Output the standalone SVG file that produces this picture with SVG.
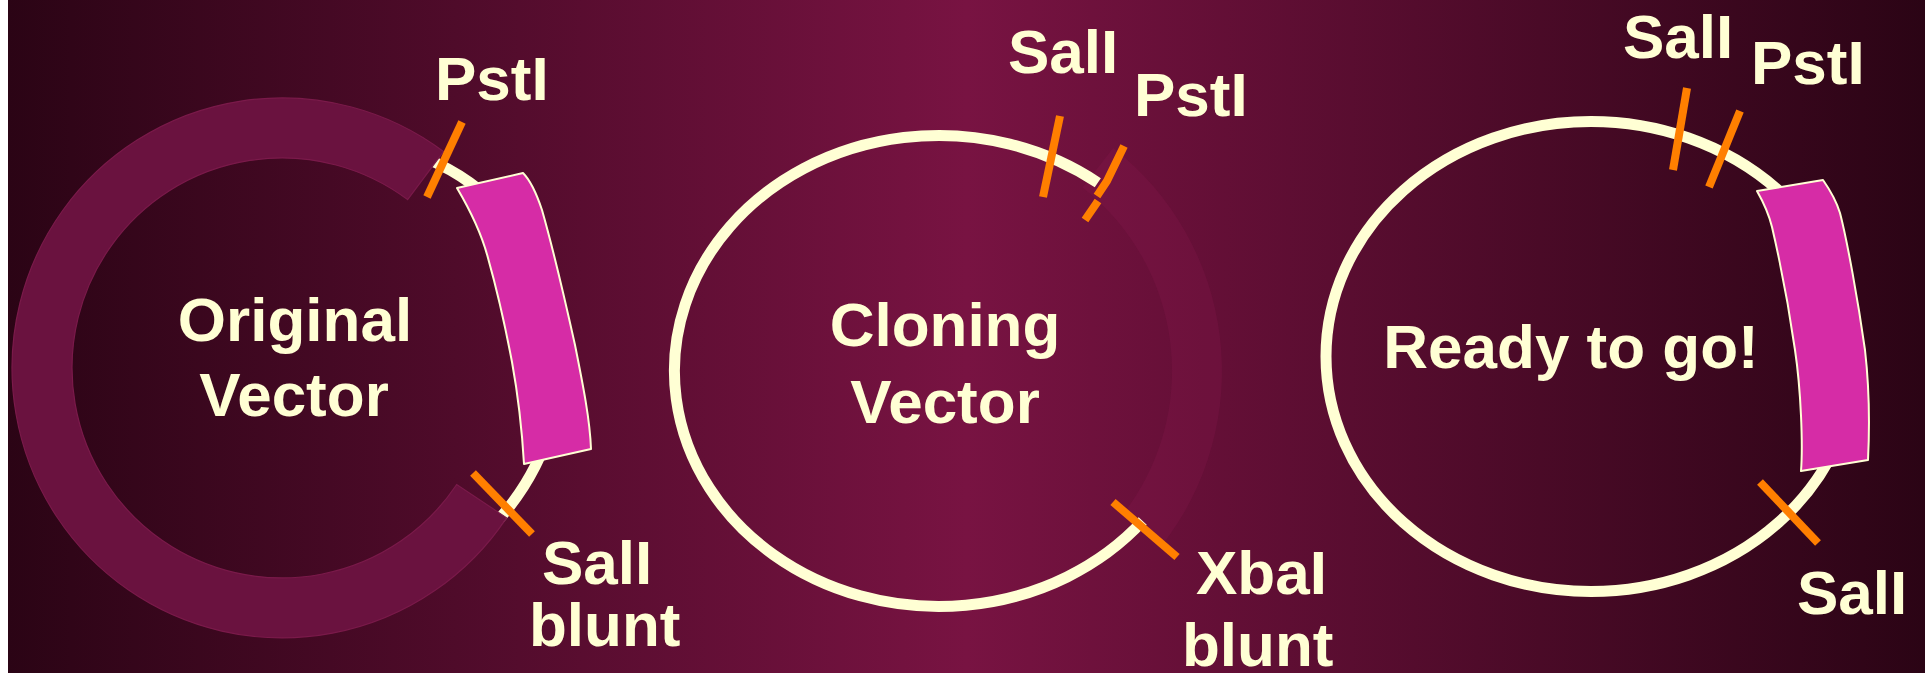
<svg xmlns="http://www.w3.org/2000/svg" width="1925" height="673" viewBox="0 0 1925 673">
  <defs>
    <linearGradient id="bg" x1="0" y1="0" x2="1" y2="0">
      <stop offset="0" stop-color="#2b0415"/>
      <stop offset="0.5" stop-color="#781342"/>
      <stop offset="1" stop-color="#2b0415"/>
    </linearGradient>
  </defs>
  <style>
    .lbl { font-family: "Liberation Sans", Arial, sans-serif; font-weight: bold; font-size: 62px; fill: #ffffd4; }
    .mid { text-anchor: middle; }
    .dna { fill: none; stroke: #ffffd4; stroke-width: 11; }
    .cut { fill: none; stroke: #ff7f00; stroke-width: 8; stroke-linecap: butt; }
    .insert { fill: #d62ca6; stroke: #ffffd4; stroke-width: 2; stroke-linejoin: round; }
    .oldring { fill: #6a123f; stroke: #7a1a4a; stroke-width: 1.2; }
  </style>

  <!-- background -->
  <rect x="0" y="0" width="1925" height="673" fill="#ffffff"/>
  <rect x="8" y="0" width="1917" height="673" fill="url(#bg)"/>

  <!-- original vector with its insert -->
  <g id="original-vector">
    <path class="dna" stroke-width="9" d="M 425,158 C 565,215 612,400 492,527"/>
    <path class="oldring" d="M 506.6,517.8 A 270 270 0 1 1 443.5,151.5 L 407.6,199.6 A 210 210 0 1 0 456.7,484.5 Z"/>
    <path class="insert" d="M 457,188 L 523,173 C 530,180 537,195 542,210 C 552,245 565,300 575,345 C 583,385 590,420 591,449 L 524,464 C 522,430 518,395 512,362 C 505,325 497,290 488,258 C 482,235 470,210 457,188 Z"/>
    <line class="cut" x1="462" y1="122" x2="427" y2="197"/>
    <line class="cut" x1="473" y1="473" x2="532" y2="534"/>
    <text class="lbl" x="435" y="100">PstI</text>
    <text class="lbl mid" x="295" y="341">Original</text>
    <text class="lbl mid" x="294" y="416">Vector</text>
    <text class="lbl" x="542" y="584">SalI</text>
    <text class="lbl" x="529" y="646">blunt</text>
  </g>

  <!-- cloning vector, opened between PstI and XbaI -->
  <g id="cloning-vector">
    <path fill="#8e1a50" fill-opacity="0.22" d="M 1113.2,148 A 283 283 0 0 1 1162,545.2 L 1122.6,514.5 A 233 233 0 0 0 1082.5,187.4 Z"/>
    <path class="dna" d="M 1097.8,182.7 A 264.5 235.5 0 1 0 1142.7,521.1"/>
    <line class="cut" x1="1060" y1="116" x2="1043" y2="197"/>
    <polyline class="cut" points="1124,146 1107,181 1097,196"/>
    <line class="cut" x1="1098" y1="201" x2="1085" y2="220"/>
    <line class="cut" x1="1113" y1="502" x2="1177" y2="557"/>
    <text class="lbl" x="1008" y="73">SalI</text>
    <text class="lbl" x="1134" y="116">PstI</text>
    <text class="lbl mid" x="945" y="346">Cloning</text>
    <text class="lbl mid" x="945" y="423">Vector</text>
    <text class="lbl" x="1196" y="594">XbaI</text>
    <text class="lbl" x="1182" y="666">blunt</text>
  </g>

  <!-- recombinant vector -->
  <g id="ready-vector">
    <ellipse class="dna" cx="1591" cy="356.5" rx="265" ry="235"/>
    <path class="insert" d="M 1757,191 L 1823,180 C 1830,190 1836,200 1840,213 C 1847,240 1858,300 1865,350 C 1869,385 1870,420 1868,460 L 1801,471 C 1803,445 1801,390 1795,350 C 1790,315 1782,270 1772,227 C 1769,215 1765,205 1757,191 Z"/>
    <line class="cut" x1="1687" y1="88" x2="1673" y2="170"/>
    <line class="cut" x1="1740" y1="111" x2="1709" y2="187"/>
    <line class="cut" x1="1760" y1="482" x2="1818" y2="543"/>
    <text class="lbl" x="1623" y="58">SalI</text>
    <text class="lbl" x="1751" y="84">PstI</text>
    <text class="lbl mid" x="1571" y="368">Ready to go!</text>
    <text class="lbl" x="1797" y="614">SalI</text>
  </g>
</svg>
